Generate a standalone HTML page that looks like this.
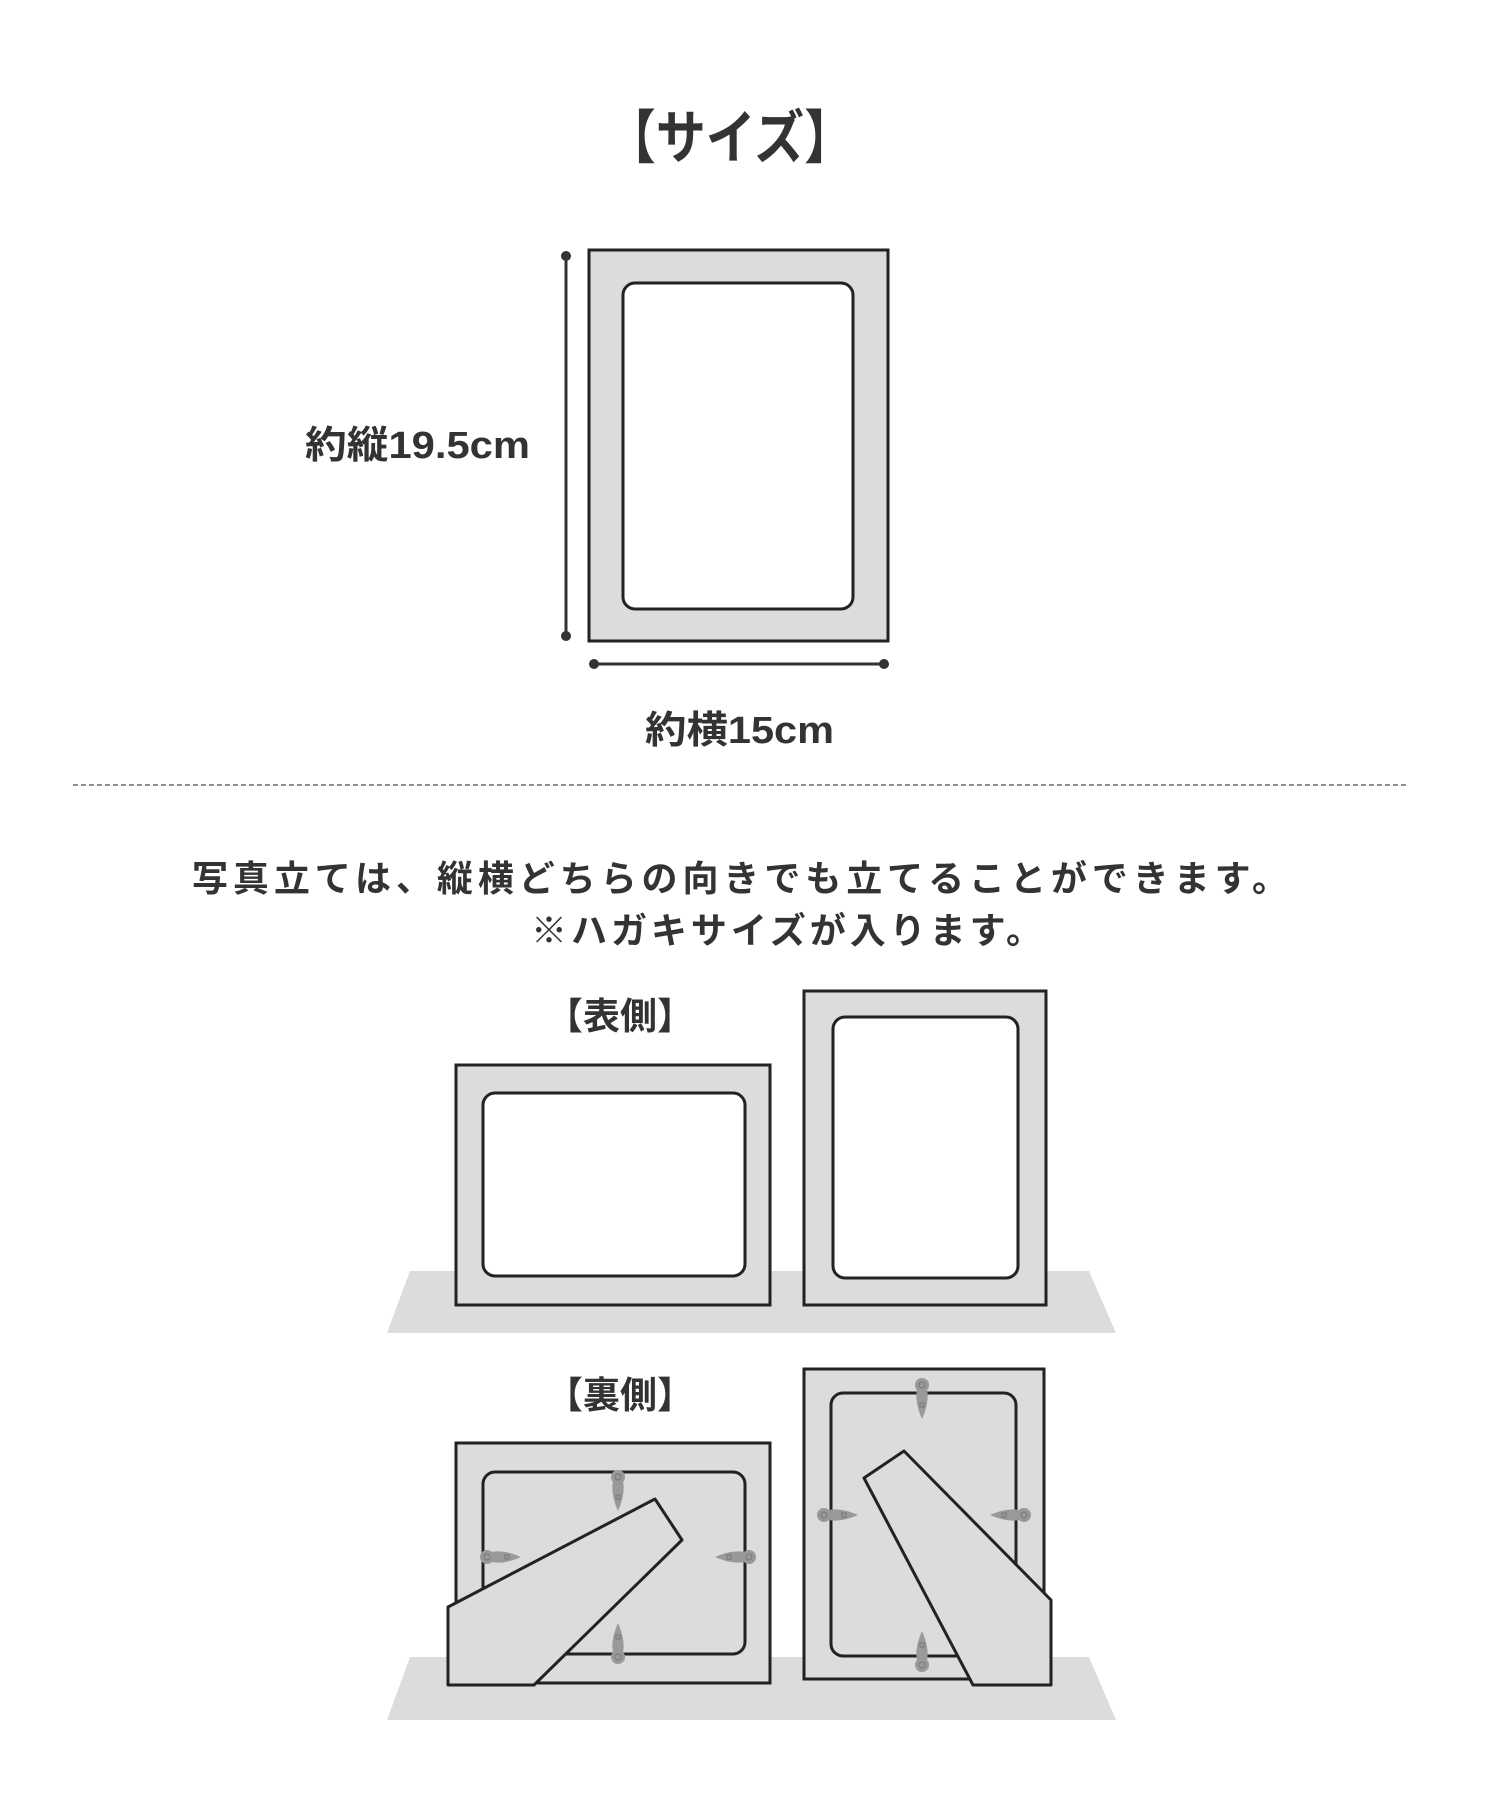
<!DOCTYPE html>
<html><head><meta charset="utf-8"><style>
html,body{margin:0;padding:0;background:#fff;}
svg{display:block}
text{font-family:"Liberation Sans","Noto Sans CJK JP",sans-serif;font-weight:bold;fill:#333;}
</style></head><body>
<svg width="1500" height="1800" viewBox="0 0 1500 1800" xmlns="http://www.w3.org/2000/svg">
<defs>
<g id="clipV">
  <path d="M0,-20 C7,-12 8,2 0,20 C-8,2 -7,-12 0,-20Z" fill="#999"/>
  <circle cx="0" cy="-14" r="7" fill="#999"/>
  <circle cx="0" cy="-14" r="3" fill="none" stroke="#777" stroke-width="1"/>
  <rect x="-2" y="4" width="4" height="4" fill="none" stroke="#777" stroke-width="1"/>
</g>
</defs>
<text x="606" y="158" font-size="58" textLength="248" lengthAdjust="spacingAndGlyphs">【サイズ】</text>
<!-- size frame -->
<rect x="589" y="250" width="299" height="391" fill="#dcdcdc" stroke="#222" stroke-width="3"/>
<rect x="623" y="283" width="230" height="326" rx="12" fill="#fff" stroke="#222" stroke-width="3"/>
<line x1="566" y1="256" x2="566" y2="636" stroke="#333" stroke-width="3"/>
<circle cx="566" cy="256" r="5" fill="#333"/><circle cx="566" cy="636" r="5" fill="#333"/>
<line x1="594" y1="664" x2="884" y2="664" stroke="#333" stroke-width="3"/>
<circle cx="594" cy="664" r="5" fill="#333"/><circle cx="884" cy="664" r="5" fill="#333"/>
<text x="305" y="458" font-size="38" textLength="225" lengthAdjust="spacingAndGlyphs">約縦19.5cm</text>
<text x="645" y="743" font-size="38" textLength="189" lengthAdjust="spacingAndGlyphs">約横15cm</text>
<line x1="73" y1="785" x2="1407" y2="785" stroke="#666" stroke-width="1.5" stroke-dasharray="5,3"/>
<text x="192" y="891" font-size="36" textLength="1096" lengthAdjust="spacing">写真立ては、縦横どちらの向きでも立てることができます。</text>
<text x="531" y="943" font-size="36" textLength="511" lengthAdjust="spacing">※ハガキサイズが入ります。</text>
<g transform="translate(-3,-5)">
<text x="623" y="1034" font-size="37" text-anchor="middle">【表側】</text>
<polygon points="413,1276 1092,1276 1119,1338 390,1338" fill="#dcdcdc"/>
<rect x="459" y="1070" width="314" height="240" fill="#dcdcdc" stroke="#222" stroke-width="3"/>
<rect x="486" y="1098" width="262" height="183" rx="12" fill="#fff" stroke="#222" stroke-width="3"/>
<rect x="807" y="996" width="242" height="314" fill="#dcdcdc" stroke="#222" stroke-width="3"/>
<rect x="836" y="1022" width="185" height="261" rx="12" fill="#fff" stroke="#222" stroke-width="3"/>
<text x="623" y="1413" font-size="37" text-anchor="middle">【裏側】</text>
<polygon points="413,1662 1092,1662 1119,1725 390,1725" fill="#dcdcdc"/>
<rect x="459" y="1448" width="314" height="240" fill="#dcdcdc" stroke="#222" stroke-width="3"/>
<rect x="486" y="1477" width="262" height="182" rx="12" fill="#dcdcdc" stroke="#222" stroke-width="3"/>
<use href="#clipV" transform="translate(621,1496)"/>
<use href="#clipV" transform="translate(621,1648) rotate(180)"/>
<use href="#clipV" transform="translate(504,1562) rotate(-90)"/>
<use href="#clipV" transform="translate(738,1562) rotate(90)"/>
<polygon points="451,1612 658,1504 685,1545 537,1690 451,1690" fill="#dcdcdc" stroke="#222" stroke-width="3" stroke-linejoin="round"/>
<rect x="807" y="1374" width="240" height="310" fill="#dcdcdc" stroke="#222" stroke-width="3"/>
<rect x="834" y="1398" width="185" height="263" rx="12" fill="#dcdcdc" stroke="#222" stroke-width="3"/>
<use href="#clipV" transform="translate(925,1404)"/>
<use href="#clipV" transform="translate(925,1656) rotate(180)"/>
<use href="#clipV" transform="translate(841,1520) rotate(-90)"/>
<use href="#clipV" transform="translate(1013,1520) rotate(90)"/>
<polygon points="867,1483 907,1456 1054,1605 1054,1690 976,1690" fill="#dcdcdc" stroke="#222" stroke-width="3" stroke-linejoin="round"/>
</g>
</svg>
</body></html>
